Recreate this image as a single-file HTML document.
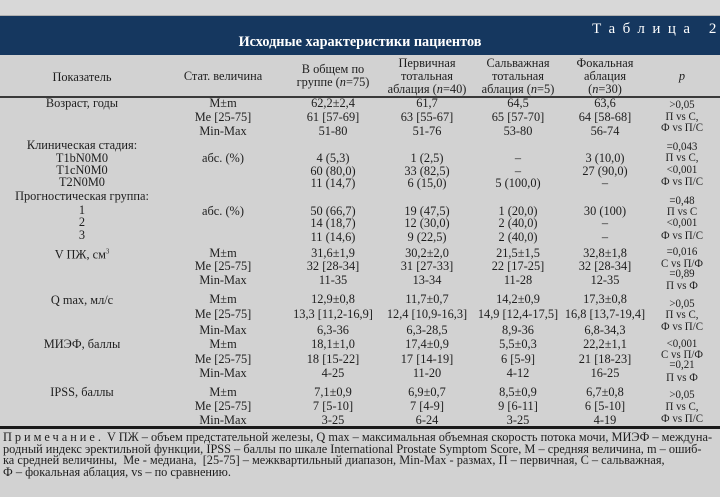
<!DOCTYPE html>
<html><head><meta charset="utf-8">
<style>
html,body{margin:0;padding:0}
body{width:720px;height:497px;background:#d2d2d2;position:relative;overflow:hidden;font-family:"Liberation Serif",serif;color:#1e1e1e}
.top{position:absolute;left:0;top:0;width:720px;height:15px;background:#d8d8d8;border-bottom:1px solid #b0b0b0}
.band{position:absolute;left:0;top:16px;width:720px;height:39px;background:#15375f}
.c{position:absolute;transform:translate(-50%,-50%) scaleX(.95);white-space:nowrap;font-size:13px;line-height:14px;text-align:center}
.p{font-size:11.5px}
.w{color:#fff}
.hl{position:absolute;left:0;width:720px;background:#3a3a3a}
.note{position:absolute;left:3px;top:432px;width:800px;font-size:12.4px;line-height:11.7px;transform:scaleX(.995);transform-origin:0 0;white-space:nowrap}
</style></head><body>
<div class="top"></div>
<div class="band"></div>
<div class="c w" style="left:658px;top:29px;font-size:15px;letter-spacing:7.5px;transform:translate(-50%,-50%)">Таблица 2</div>
<div class="c w" style="left:360px;top:42px;font-size:15px;font-weight:bold">Исходные характеристики пациентов</div>

<div class="c" style="left:82px;top:77px">Показатель</div>
<div class="c" style="left:223px;top:76px">Стат. величина</div>
<div class="c" style="left:333px;top:69px">В общем по</div>
<div class="c" style="left:333px;top:82px">группе (<i>n</i>=75)</div>
<div class="c" style="left:427px;top:63px">Первичная</div>
<div class="c" style="left:427px;top:76px">тотальная</div>
<div class="c" style="left:427px;top:89px">аблация (<i>n</i>=40)</div>
<div class="c" style="left:518px;top:63px">Сальважная</div>
<div class="c" style="left:518px;top:76px">тотальная</div>
<div class="c" style="left:518px;top:89px">аблация (<i>n</i>=5)</div>
<div class="c" style="left:605px;top:63px">Фокальная</div>
<div class="c" style="left:605px;top:76px">аблация</div>
<div class="c" style="left:605px;top:89px">(<i>n</i>=30)</div>
<div class="c" style="left:682px;top:76px"><i>p</i></div>
<div class="hl" style="top:96px;height:1.5px"></div>

<div class="c" style="left:82px;top:103px">Возраст, годы</div>
<div class="c" style="left:223px;top:103px">M±m</div>
<div class="c" style="left:223px;top:117px">Me [25-75]</div>
<div class="c" style="left:223px;top:131px">Min-Max</div>
<div class="c" style="left:333px;top:103px">62,2±2,4</div>
<div class="c" style="left:333px;top:117px">61 [57-69]</div>
<div class="c" style="left:333px;top:131px">51-80</div>
<div class="c" style="left:427px;top:103px">61,7</div>
<div class="c" style="left:427px;top:117px">63 [55-67]</div>
<div class="c" style="left:427px;top:131px">51-76</div>
<div class="c" style="left:518px;top:103px">64,5</div>
<div class="c" style="left:518px;top:117px">65 [57-70]</div>
<div class="c" style="left:518px;top:131px">53-80</div>
<div class="c" style="left:605px;top:103px">63,6</div>
<div class="c" style="left:605px;top:117px">64 [58-68]</div>
<div class="c" style="left:605px;top:131px">56-74</div>
<div class="c p" style="left:682px;top:105px">&gt;0,05</div>
<div class="c p" style="left:682px;top:117px">П vs С,</div>
<div class="c p" style="left:682px;top:128px">Ф vs П/С</div>

<div class="c" style="left:82px;top:145px">Клиническая стадия:</div>
<div class="c" style="left:82px;top:158px">T1bN0M0</div>
<div class="c" style="left:82px;top:170px">T1cN0M0</div>
<div class="c" style="left:82px;top:182px">T2N0M0</div>
<div class="c" style="left:223px;top:158px">абс. (%)</div>
<div class="c" style="left:333px;top:158px">4 (5,3)</div>
<div class="c" style="left:333px;top:171px">60 (80,0)</div>
<div class="c" style="left:333px;top:183px">11 (14,7)</div>
<div class="c" style="left:427px;top:158px">1 (2,5)</div>
<div class="c" style="left:427px;top:171px">33 (82,5)</div>
<div class="c" style="left:427px;top:183px">6 (15,0)</div>
<div class="c" style="left:518px;top:158px">–</div>
<div class="c" style="left:518px;top:171px">–</div>
<div class="c" style="left:518px;top:183px">5 (100,0)</div>
<div class="c" style="left:605px;top:158px">3 (10,0)</div>
<div class="c" style="left:605px;top:171px">27 (90,0)</div>
<div class="c" style="left:605px;top:183px">–</div>
<div class="c p" style="left:682px;top:147px">=0,043</div>
<div class="c p" style="left:682px;top:158px">П vs С,</div>
<div class="c p" style="left:682px;top:170px">&lt;0,001</div>
<div class="c p" style="left:682px;top:182px">Ф vs П/С</div>

<div class="c" style="left:82px;top:196px">Прогностическая группа:</div>
<div class="c" style="left:82px;top:210px">1</div>
<div class="c" style="left:82px;top:222px">2</div>
<div class="c" style="left:82px;top:235px">3</div>
<div class="c" style="left:223px;top:211px">абс. (%)</div>
<div class="c" style="left:333px;top:211px">50 (66,7)</div>
<div class="c" style="left:333px;top:223px">14 (18,7)</div>
<div class="c" style="left:333px;top:237px">11 (14,6)</div>
<div class="c" style="left:427px;top:211px">19 (47,5)</div>
<div class="c" style="left:427px;top:223px">12 (30,0)</div>
<div class="c" style="left:427px;top:237px">9 (22,5)</div>
<div class="c" style="left:518px;top:211px">1 (20,0)</div>
<div class="c" style="left:518px;top:223px">2 (40,0)</div>
<div class="c" style="left:518px;top:237px">2 (40,0)</div>
<div class="c" style="left:605px;top:211px">30 (100)</div>
<div class="c" style="left:605px;top:223px">–</div>
<div class="c" style="left:605px;top:237px">–</div>
<div class="c p" style="left:682px;top:201px">=0,48</div>
<div class="c p" style="left:682px;top:212px">П vs С</div>
<div class="c p" style="left:682px;top:223px">&lt;0,001</div>
<div class="c p" style="left:682px;top:236px">Ф vs П/С</div>

<div class="c" style="left:82px;top:253px">V ПЖ, см<sup style="font-size:7px">3</sup></div>
<div class="c" style="left:223px;top:253px">M±m</div>
<div class="c" style="left:223px;top:266px">Me [25-75]</div>
<div class="c" style="left:223px;top:280px">Min-Max</div>
<div class="c" style="left:333px;top:253px">31,6±1,9</div>
<div class="c" style="left:333px;top:266px">32 [28-34]</div>
<div class="c" style="left:333px;top:280px">11-35</div>
<div class="c" style="left:427px;top:253px">30,2±2,0</div>
<div class="c" style="left:427px;top:266px">31 [27-33]</div>
<div class="c" style="left:427px;top:280px">13-34</div>
<div class="c" style="left:518px;top:253px">21,5±1,5</div>
<div class="c" style="left:518px;top:266px">22 [17-25]</div>
<div class="c" style="left:518px;top:280px">11-28</div>
<div class="c" style="left:605px;top:253px">32,8±1,8</div>
<div class="c" style="left:605px;top:266px">32 [28-34]</div>
<div class="c" style="left:605px;top:280px">12-35</div>
<div class="c p" style="left:682px;top:252px">=0,016</div>
<div class="c p" style="left:682px;top:264px">С vs П/Ф</div>
<div class="c p" style="left:682px;top:274px">=0,89</div>
<div class="c p" style="left:682px;top:286px">П vs Ф</div>

<div class="c" style="left:82px;top:300px">Q max, мл/с</div>
<div class="c" style="left:223px;top:299px">M±m</div>
<div class="c" style="left:223px;top:314px">Me [25-75]</div>
<div class="c" style="left:223px;top:330px">Min-Max</div>
<div class="c" style="left:333px;top:299px">12,9±0,8</div>
<div class="c" style="left:333px;top:314px">13,3 [11,2-16,9]</div>
<div class="c" style="left:333px;top:330px">6,3-36</div>
<div class="c" style="left:427px;top:299px">11,7±0,7</div>
<div class="c" style="left:427px;top:314px">12,4 [10,9-16,3]</div>
<div class="c" style="left:427px;top:330px">6,3-28,5</div>
<div class="c" style="left:518px;top:299px">14,2±0,9</div>
<div class="c" style="left:518px;top:314px">14,9 [12,4-17,5]</div>
<div class="c" style="left:518px;top:330px">8,9-36</div>
<div class="c" style="left:605px;top:299px">17,3±0,8</div>
<div class="c" style="left:605px;top:314px">16,8 [13,7-19,4]</div>
<div class="c" style="left:605px;top:330px">6,8-34,3</div>
<div class="c p" style="left:682px;top:304px">&gt;0,05</div>
<div class="c p" style="left:682px;top:315px">П vs С,</div>
<div class="c p" style="left:682px;top:327px">Ф vs П/С</div>

<div class="c" style="left:82px;top:344px">МИЭФ, баллы</div>
<div class="c" style="left:223px;top:344px">M±m</div>
<div class="c" style="left:223px;top:359px">Me [25-75]</div>
<div class="c" style="left:223px;top:373px">Min-Max</div>
<div class="c" style="left:333px;top:344px">18,1±1,0</div>
<div class="c" style="left:333px;top:359px">18 [15-22]</div>
<div class="c" style="left:333px;top:373px">4-25</div>
<div class="c" style="left:427px;top:344px">17,4±0,9</div>
<div class="c" style="left:427px;top:359px">17 [14-19]</div>
<div class="c" style="left:427px;top:373px">11-20</div>
<div class="c" style="left:518px;top:344px">5,5±0,3</div>
<div class="c" style="left:518px;top:359px">6 [5-9]</div>
<div class="c" style="left:518px;top:373px">4-12</div>
<div class="c" style="left:605px;top:344px">22,2±1,1</div>
<div class="c" style="left:605px;top:359px">21 [18-23]</div>
<div class="c" style="left:605px;top:373px">16-25</div>
<div class="c p" style="left:682px;top:344px">&lt;0,001</div>
<div class="c p" style="left:682px;top:355px">С vs П/Ф</div>
<div class="c p" style="left:682px;top:365px">=0,21</div>
<div class="c p" style="left:682px;top:378px">П vs Ф</div>

<div class="c" style="left:82px;top:392px">IPSS, баллы</div>
<div class="c" style="left:223px;top:392px">M±m</div>
<div class="c" style="left:223px;top:406px">Me [25-75]</div>
<div class="c" style="left:223px;top:420px">Min-Max</div>
<div class="c" style="left:333px;top:392px">7,1±0,9</div>
<div class="c" style="left:333px;top:406px">7 [5-10]</div>
<div class="c" style="left:333px;top:420px">3-25</div>
<div class="c" style="left:427px;top:392px">6,9±0,7</div>
<div class="c" style="left:427px;top:406px">7 [4-9]</div>
<div class="c" style="left:427px;top:420px">6-24</div>
<div class="c" style="left:518px;top:392px">8,5±0,9</div>
<div class="c" style="left:518px;top:406px">9 [6-11]</div>
<div class="c" style="left:518px;top:420px">3-25</div>
<div class="c" style="left:605px;top:392px">6,7±0,8</div>
<div class="c" style="left:605px;top:406px">6 [5-10]</div>
<div class="c" style="left:605px;top:420px">4-19</div>
<div class="c p" style="left:682px;top:395px">&gt;0,05</div>
<div class="c p" style="left:682px;top:407px">П vs С,</div>
<div class="c p" style="left:682px;top:419px">Ф vs П/С</div>

<div class="hl" style="top:426px;height:3px;background:#1a1a1a"></div>

<div class="note"><span style="letter-spacing:3px">Примечание.</span> V ПЖ – объем предстательной железы, Q max – максимальная объемная скорость потока мочи, МИЭФ – междуна-<br>родный индекс эректильной функции, IPSS – баллы по шкале International Prostate Symptom Score, М – средняя величина, m – ошиб-<br>ка средней величины,&nbsp; Me - медиана,&nbsp; [25-75] – межквартильный диапазон, Min-Max - размах, П – первичная, С – сальважная,<br>Ф – фокальная аблация, vs – по сравнению.</div>
</body></html>
